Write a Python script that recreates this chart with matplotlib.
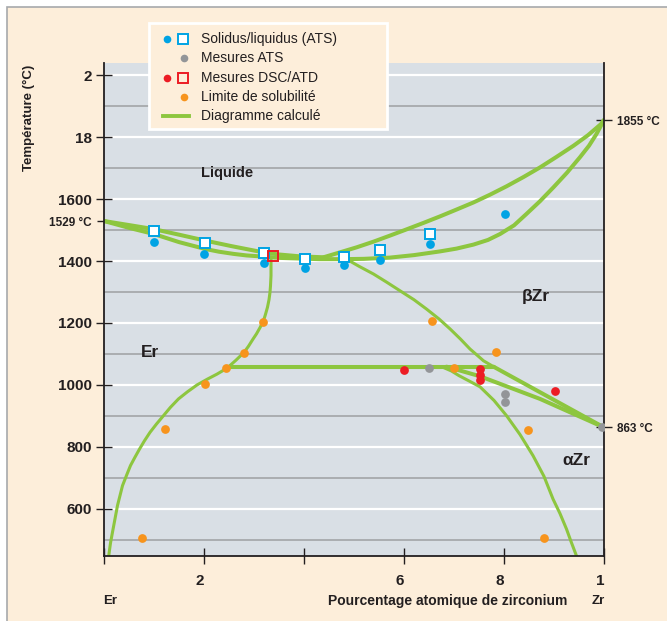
import matplotlib
matplotlib.use("Agg")
import matplotlib.pyplot as plt
from matplotlib.patches import Rectangle
from matplotlib.transforms import ScaledTranslation

plt.rcParams['font.family'] = ['Liberation Sans', 'DejaVu Sans']

# solidus / liquidus from ATS (squares = liquidus, dots = solidus)
ats_liq_x = [10, 20.2, 31.9, 40.1, 48, 55.1, 65.2]
ats_liq_t = [1497, 1457, 1425, 1408, 1413, 1436, 1487]
ats_sol_x = [10, 20, 31.9, 40.1, 48, 55.1, 65.2, 80.2]
ats_sol_t = [1462, 1422, 1392, 1376, 1388, 1404, 1455, 1551]

# other ATS measurements
ats_x = [65, 80.2, 80.2, 99.6]
ats_t = [1055, 970, 944, 863]

# DSC / ATD
dsc_x = [59.9, 75.1, 75.1, 75.1, 90.2]
dsc_t = [1048, 1052, 1032, 1016, 981]
dsc_sq_x = [33.7]
dsc_sq_t = [1417]

# solubility limits
sol_lim_x = [7.5, 12.2, 20.2, 24.4, 28, 31.8, 65.5, 69.9, 78.3, 84.7, 87.9]
sol_lim_t = [507, 858, 1003, 1054, 1104, 1204, 1206, 1055, 1107, 856, 506]

# calculated diagram
liq_er_x = [0, 5, 9.9, 15, 20.2, 25.5, 31.2, 35, 39.2, 43.9]
liq_er_t = [1529, 1516, 1503, 1485, 1466, 1448, 1430, 1421, 1415, 1412]
sol_er_x = [0, 5, 10, 15, 20.2, 23, 25.9, 28.5, 31.2, 35.2, 39.2, 43, 47.9]
sol_er_t = [1529, 1507, 1487, 1461, 1439, 1430, 1423, 1418, 1415, 1410, 1408,
            1406, 1406]
liq_zr_x = [43.9, 47, 50.5, 54, 57.2, 60.5, 63.9, 67.2, 70.5, 73.9, 77.2, 80.5,
            83.9, 87.2, 90.5, 93.9, 96.8, 99.4, 100]
liq_zr_t = [1412, 1427, 1444, 1463, 1482, 1502, 1523, 1544, 1566, 1589, 1614,
            1641, 1671, 1702, 1736, 1772, 1806, 1842, 1855]
sol_zr_x = [47.9, 52, 57.2, 62, 67.2, 70.5, 73.9, 76.8, 79.2, 82, 84.5, 87.2,
            89.9, 92.6, 95.2, 97, 98.5, 100]
sol_zr_t = [1406, 1407, 1411, 1419, 1431, 1440, 1453, 1468, 1487, 1515, 1552,
            1593, 1638, 1685, 1735, 1772, 1810, 1855]
solv_er_x = [33.4, 33.4, 33.4, 33.3, 33.2, 33.0, 32.7, 32.3, 31.9, 31.2, 30.5,
             29.8, 28.9, 28.0, 26.4, 24.6, 22.6, 20.7, 18.6, 16.7, 14.9, 13.3,
             11.9, 10.5, 9.2, 8.1, 7.1, 6.2, 5.3, 4.5, 3.7, 3.2, 2.7, 2.2, 1.7,
             1.3, 1.0, 0.95]
solv_er_t = [1412, 1380, 1353, 1320, 1299, 1275, 1251, 1228, 1207, 1185, 1165,
             1148, 1125, 1105, 1080, 1054, 1035, 1019, 1000, 978, 955, 928,
             901, 874, 847, 820, 793, 767, 740, 708, 675, 643, 611, 568, 525,
             490, 455, 448]
solv_bzr_x = [48.5, 51, 53.9, 56.5, 59.2, 62, 64.5, 67, 69.2, 71.3, 73.2, 74.7,
              75.9, 77.9]
solv_bzr_t = [1406, 1383, 1358, 1332, 1304, 1275, 1245, 1213, 1181, 1148, 1116,
              1095, 1078, 1059]
eutectoid_x = [24.6, 77.9]
eutectoid_t = [1059, 1059]
transus_b_x = [77.9, 100]
transus_b_t = [1059, 863]
transus_a_x = [68.5, 75.2, 87.2, 100]
transus_a_t = [1059, 1028, 955, 863]
solv_azr_x = [67.5, 69.5, 71, 73, 75.2, 78, 80.5, 83.2, 85.8, 88, 89.8, 91.2,
              92.5, 93.4, 94.2, 94.5]
solv_azr_t = [1059, 1045, 1030, 1013, 994, 950, 901, 840, 772, 705, 632, 585,
              535, 495, 461, 448]

y_ticks = [600, 800, 1000, 1200, 1400, 1600, 1800, 2000]
y_tick_labels = ['600', '800', '1000', '1200', '1400', '1600', '18', '2']
y_minor = [500, 700, 900, 1100, 1300, 1500, 1700, 1900]
x_ticks = [0, 20, 40, 60, 80, 100]
x_tick_labels = ['', '2', '', '6', '8', '1']

PEACH = '#FDEEDA'
PLOT_BG = '#D9DFE5'
GREEN = '#8DC63F'
BLUE = '#00A3E4'
GRAY = '#939598'
RED = '#EC1C24'
ORANGE = '#F7941D'
DARK = '#231F20'

fig = plt.figure(figsize=(6.67, 6.21), dpi=100)
fig.patch.set_facecolor('white')

# page background, in pixel coordinates
bg = fig.add_axes([0, 0, 1, 1], zorder=0)
bg.set_xlim(0, 667)
bg.set_ylim(621, 0)
bg.axis('off')
bg.add_patch(Rectangle((7, 7), 700, 700, fc=PEACH, ec='#A7A9AC', lw=1.2))
bg.text(29, 118, 'Température (°C)', rotation=90, ha='center', va='center',
        fontsize=9.5, fontweight='bold', color=DARK)
bg.text(110, 601, 'Er', ha='center', va='center', fontsize=9.5,
        fontweight='bold', color=DARK)
bg.text(448, 601, 'Pourcentage atomique de zirconium', ha='center',
        va='center', fontsize=10, fontweight='bold', color=DARK)
bg.text(598, 601, 'Zr', ha='center', va='center', fontsize=9.5,
        fontweight='bold', color=DARK)

ax = fig.add_axes([104 / 667, 65 / 621, 500 / 667, 493 / 621], zorder=2)
ax.set_facecolor(PLOT_BG)
ax.set_xlim(0, 100)
ax.set_ylim(448, 2039)

lw_main = 2.9
lw_thin = 2.2
line_kw = dict(color=GREEN, solid_capstyle='round', solid_joinstyle='round')
ax.plot(liq_er_x, liq_er_t, lw=lw_main, **line_kw)
ax.plot(sol_er_x, sol_er_t, lw=lw_main, **line_kw)
ax.plot(liq_zr_x, liq_zr_t, lw=lw_main, **line_kw)
ax.plot(sol_zr_x, sol_zr_t, lw=lw_main, **line_kw)
ax.plot(solv_er_x, solv_er_t, lw=lw_thin, **line_kw)
ax.plot(solv_bzr_x, solv_bzr_t, lw=lw_thin, **line_kw)
ax.plot(eutectoid_x, eutectoid_t, lw=lw_main, **line_kw)
ax.plot(transus_b_x, transus_b_t, lw=lw_main, **line_kw)
ax.plot(transus_a_x, transus_a_t, lw=lw_main, **line_kw)
ax.plot(solv_azr_x, solv_azr_t, lw=lw_thin, **line_kw)

ms = 6.3
ax.plot(ats_sol_x, ats_sol_t, 'o', ms=ms, color=BLUE, mec='none', zorder=3)
ax.plot(ats_x, ats_t, 'o', ms=ms, color=GRAY, mec='none', zorder=3)
ax.plot(dsc_x, dsc_t, 'o', ms=ms, color=RED, mec='none', zorder=3)
ax.plot(sol_lim_x, sol_lim_t, 'o', ms=ms, color=ORANGE, mec='none', zorder=3)
ax.plot(ats_liq_x, ats_liq_t, 's', ms=7.2, mfc='white', mec=BLUE, mew=1.4, zorder=4)
ax.plot(dsc_sq_x, dsc_sq_t, 's', ms=7.2, mfc='none', mec=RED, mew=1.4, zorder=4)

ax.text(24.6, 1684, 'Liquide', ha='center', va='center', fontsize=10.5,
        fontweight='bold', color=DARK)
ax.text(9.2, 1106, 'Er', ha='center', va='center', fontsize=12.5,
        fontweight='bold', color=DARK)
ax.text(86.3, 1287, 'βZr', ha='center', va='center', fontsize=12.5,
        fontweight='bold', color=DARK)
ax.text(94.4, 755, 'αZr', ha='center', va='center', fontsize=12.5,
        fontweight='bold', color=DARK)

# axes, ticks and grid
ax.set_yticks(y_ticks)
ax.set_yticklabels(y_tick_labels, fontweight='bold', fontsize=11, color=DARK)
ax.set_yticks(y_minor, minor=True)
ax.set_xticks(x_ticks)
ax.set_xticklabels(x_tick_labels, fontweight='bold', fontsize=11, color=DARK)
ax.tick_params(axis='y', which='major', direction='inout', length=11,
               width=1, color=DARK, pad=3)
ax.tick_params(axis='x', which='major', direction='inout', length=12,
               width=1, color=DARK, pad=7)
ax.tick_params(which='minor', length=0)
ax.grid(which='major', axis='y', color='white', lw=1.6)
ax.grid(which='minor', axis='y', color='#A7A9AC', lw=1.3)
ax.set_axisbelow(True)
shift = ScaledTranslation(-0.04, 0, fig.dpi_scale_trans)
for lbl in ax.get_xticklabels():
    lbl.set_transform(lbl.get_transform() + shift)

ax.spines['top'].set_visible(False)
for side in ['left', 'right', 'bottom']:
    ax.spines[side].set_color(DARK)
    ax.spines[side].set_linewidth(1.3)

left2 = ax.secondary_yaxis('left')
left2.set_yticks([1529])
left2.set_yticklabels(['1529 °C'], fontweight='bold', fontsize=8.5, color=DARK)
left2.tick_params(direction='out', length=5, width=1, color=DARK, pad=4)
left2.spines['left'].set_visible(False)

right2 = ax.secondary_yaxis('right')
right2.set_yticks([863, 1855])
right2.set_yticklabels(['863 °C', '1855 °C'], fontweight='bold', fontsize=8.5,
                       color=DARK)
right2.tick_params(direction='inout', length=11, width=1, color=DARK, pad=4)
right2.spines['right'].set_visible(False)

# legend box
lg = fig.add_axes([0, 0, 1, 1], zorder=5)
lg.set_xlim(0, 667)
lg.set_ylim(621, 0)
lg.axis('off')
lg.add_patch(Rectangle((149, 23), 238, 106, fc=PEACH, ec='white', lw=2))
rows = [39, 58, 78, 97, 116]
lg.plot([167], [rows[0]], 'o', ms=5.5, color=BLUE, mec='none')
lg.plot([183], [rows[0]], 's', ms=7.2, mfc='white', mec=BLUE, mew=1.4)
lg.plot([184], [rows[1]], 'o', ms=5.5, color=GRAY, mec='none')
lg.plot([167], [rows[2]], 'o', ms=5.5, color=RED, mec='none')
lg.plot([183], [rows[2]], 's', ms=7.2, mfc='none', mec=RED, mew=1.4)
lg.plot([184], [rows[3]], 'o', ms=5.5, color=ORANGE, mec='none')
lg.plot([163, 189], [rows[4], rows[4]], color=GREEN, lw=2.8)
legend_texts = ['Solidus/liquidus (ATS)', 'Mesures ATS', 'Mesures DSC/ATD',
                'Limite de solubilité', 'Diagramme calculé']
for yy, txt in zip(rows, legend_texts):
    lg.text(201, yy, txt, ha='left', va='center', fontsize=10, color=DARK)

fig.savefig('out.png', dpi=100)
